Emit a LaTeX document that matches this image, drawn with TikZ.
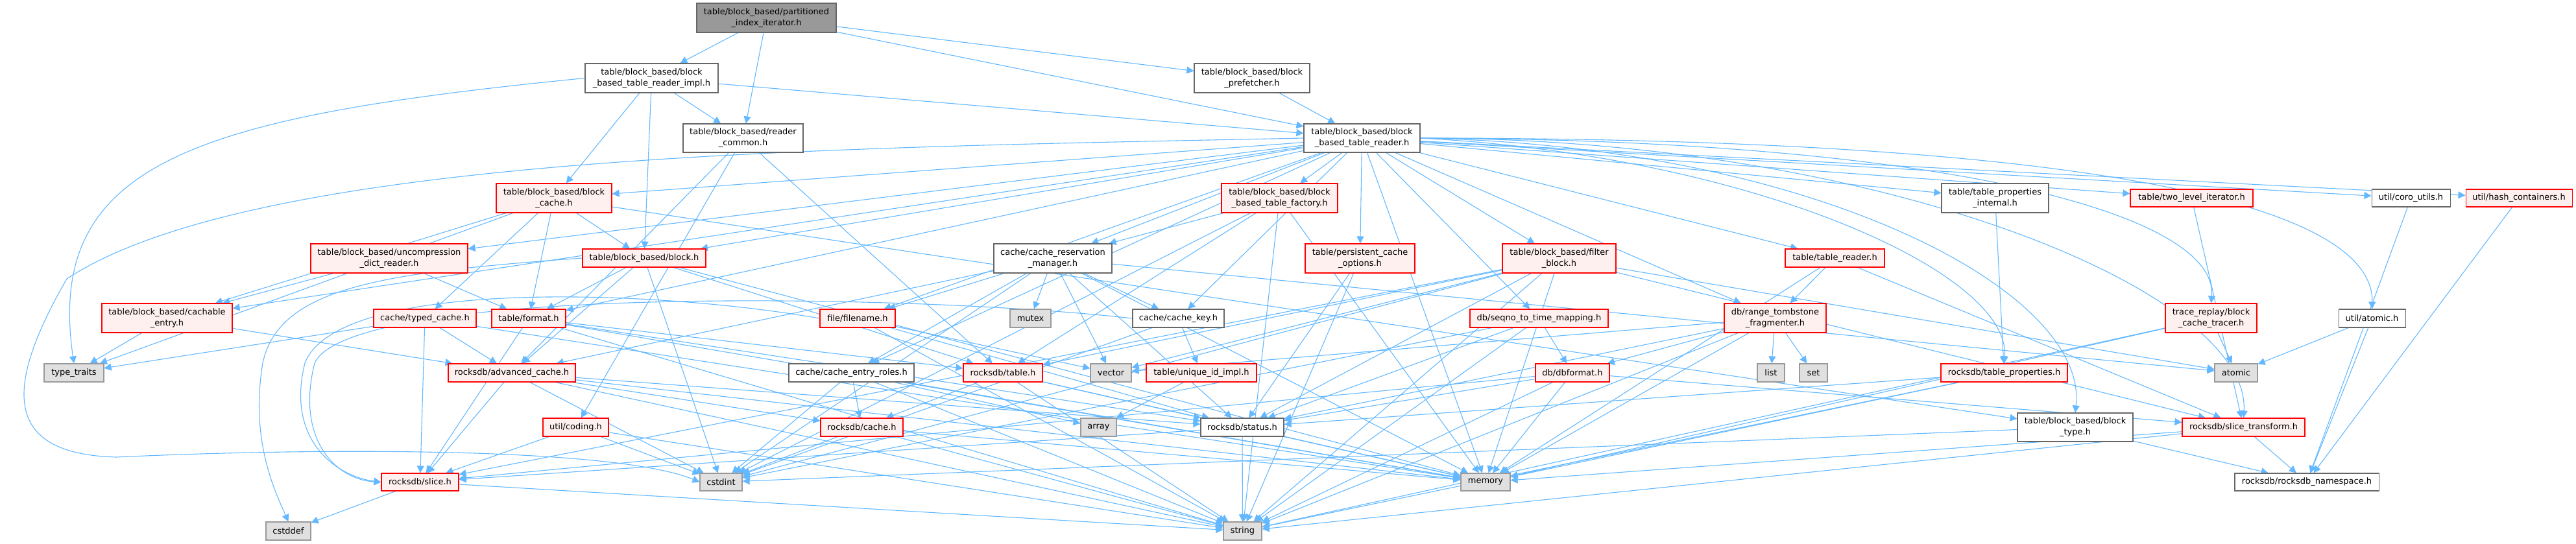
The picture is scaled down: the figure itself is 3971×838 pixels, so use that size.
\documentclass[tikz,border=0pt]{standalone}
\usepackage{fontspec}
\setmainfont{DejaVu Sans}
\usetikzlibrary{arrows.meta}
\pgfdeclarelayer{bg}
\pgfsetlayers{bg,main}
\definecolor{edgec}{HTML}{63B8FF}
\definecolor{redfill}{HTML}{FFF0F0}
\definecolor{leaffill}{HTML}{E0E0E0}
\definecolor{topfill}{HTML}{999999}
\tikzset{
  nd/.style={draw, line width=1.1pt, inner sep=0pt, align=center, anchor=center,
    font=\fontsize{13}{17}\selectfont, text=black},
  redn/.style={nd, draw=red, fill=redfill},
  whiten/.style={nd, draw=black!60, fill=white},
  grayn/.style={nd, draw=black!40, fill=leaffill},
  topn/.style={nd, draw=black!60, fill=topfill},
  edge/.style={draw=edgec, line width=1.1pt, -{Triangle[length=11pt,width=11pt]}},
}
\newcommand{\nb}[6]{\node[#1, minimum width=#4pt, minimum height=#5pt] (#6) at (#2,#3)}
\begin{document}
\begin{tikzpicture}[x=1pt,y=-1pt]
\useasboundingbox (0,0) rectangle (3971,838);
\nb{topn}{1181.5}{27.5}{215}{45}{partitioned} {table/block\_based/partitioned\\\_index\_iterator.h};
\nb{whiten}{1004.5}{120.5}{205}{45}{impl} {table/block\_based/block\\\_based\_table\_reader\_impl.h};
\nb{whiten}{1930}{120.5}{178}{45}{prefetch} {table/block\_based/block\\\_prefetcher.h};
\nb{whiten}{1145.5}{213}{185}{44}{rcommon} {table/block\_based/reader\\\_common.h};
\nb{whiten}{2099.5}{213}{179}{44}{reader} {table/block\_based/block\\\_based\_table\_reader.h};
\nb{redn}{854}{305.5}{178}{45}{bcache} {table/block\_based/block\\\_cache.h};
\nb{redn}{1972.5}{305.5}{179}{45}{factory} {table/block\_based/block\\\_based\_table\_factory.h};
\nb{whiten}{3075.5}{305.5}{165}{45}{tpi} {table/table\_properties\\\_internal.h};
\nb{redn}{3378.5}{305.5}{189}{27}{twolevel} {table/two\_level\_iterator.h};
\nb{whiten}{3716.5}{305.5}{121}{27}{coro} {util/coro\_utils.h};
\nb{redn}{3883}{305.5}{164}{27}{hash} {util/hash\_containers.h};
\nb{redn}{600}{398.5}{242}{45}{uncomp} {table/block\_based/uncompression\\\_dict\_reader.h};
\nb{redn}{993}{398}{190}{28}{block} {table/block\_based/block.h};
\nb{whiten}{1623}{398.5}{182}{45}{crm} {cache/cache\_reservation\\\_manager.h};
\nb{redn}{2096.5}{398.5}{169}{45}{pco} {table/persistent\_cache\\\_options.h};
\nb{redn}{2403.5}{398.5}{175}{45}{filter} {table/block\_based/filter\\\_block.h};
\nb{redn}{2828.5}{398}{153}{28}{treader} {table/table\_reader.h};
\nb{redn}{257.5}{490.5}{201}{45}{cachable} {table/block\_based/cachable\\\_entry.h};
\nb{redn}{655}{491}{158}{28}{typed} {cache/typed\_cache.h};
\nb{redn}{815}{491}{114}{28}{format} {table/format.h};
\nb{redn}{1322}{491}{116}{28}{filename} {file/filename.h};
\nb{grayn}{1588.5}{491}{63}{28}{mutex} {mutex};
\nb{whiten}{1816.5}{491}{141}{28}{ckey} {cache/cache\_key.h};
\nb{redn}{2372.5}{491}{213}{28}{seqno} {db/seqno\_to\_time\_mapping.h};
\nb{redn}{2736.5}{490.5}{157}{45}{rtf} {db/range\_tombstone\\\_fragmenter.h};
\nb{redn}{3408.5}{490.5}{141}{45}{tracer} {trace\_replay/block\\\_cache\_tracer.h};
\nb{whiten}{3656.5}{491}{103}{28}{uatomic} {util/atomic.h};
\nb{grayn}{114}{575}{92}{28}{ttraits} {type\_traits};
\nb{redn}{789}{575}{196}{28}{acache} {rocksdb/advanced\_cache.h};
\nb{whiten}{1312.5}{575}{193}{28}{roles} {cache/cache\_entry\_roles.h};
\nb{redn}{1546}{575}{122}{28}{rtable} {rocksdb/table.h};
\nb{grayn}{1712.5}{575}{63}{28}{vector} {vector};
\nb{redn}{1852}{575}{170}{28}{uid} {table/unique\_id\_impl.h};
\nb{redn}{2424}{575}{114}{28}{dbformat} {db/dbformat.h};
\nb{grayn}{2730}{575}{42}{28}{list} {list};
\nb{grayn}{2795.5}{575}{43}{28}{set} {set};
\nb{redn}{3089.5}{575}{195}{28}{tprops} {rocksdb/table\_properties.h};
\nb{grayn}{3447}{575}{66}{28}{atomic} {atomic};
\nb{redn}{887.5}{659}{101}{28}{coding} {util/coding.h};
\nb{redn}{1328.5}{659}{127}{28}{rcache} {rocksdb/cache.h};
\nb{grayn}{1693.5}{659}{55}{28}{array} {array};
\nb{whiten}{1915}{659}{128}{28}{status} {rocksdb/status.h};
\nb{whiten}{3199}{659}{178}{44}{btype} {table/block\_based/block\\\_type.h};
\nb{redn}{3458.5}{659}{189}{28}{stransform} {rocksdb/slice\_transform.h};
\nb{redn}{647.5}{743.5}{119}{27}{slice} {rocksdb/slice.h};
\nb{grayn}{1111.5}{743.5}{65}{27}{cstdint} {cstdint};
\nb{grayn}{2290}{743.5}{76}{27}{memory} {memory};
\nb{whiten}{3556}{743.5}{222}{27}{rns} {rocksdb/rocksdb\_namespace.h};
\nb{grayn}{444.5}{819}{69}{28}{cstddef} {cstddef};
\nb{grayn}{1915.5}{819}{59}{28}{string} {string};
\begin{pgfonlayer}{bg}
\foreach \s/\t in {partitioned/impl, partitioned/rcommon, partitioned/prefetch, partitioned/reader,
  impl/reader, impl/bcache, impl/block, impl/rcommon, prefetch/reader,
  rcommon/acache, rcommon/coding, rcommon/rtable,
  reader/factory, reader/pco, reader/filter, reader/crm, reader/ckey, reader/roles, reader/rtf,
  reader/seqno, reader/filename, reader/block, reader/bcache,
  reader/cachable, reader/uncomp, reader/format, reader/tpi, reader/treader,
  reader/twolevel, reader/coro, reader/hash, reader/memory,
  bcache/ttraits, bcache/cachable, bcache/typed, bcache/format, bcache/block, bcache/btype,
  uncomp/cachable, uncomp/format,
  block/format, block/acache, block/cstdint, block/memory, block/rtable,
  cachable/ttraits, cachable/acache,
  typed/ttraits, typed/acache, typed/slice, typed/memory,
  format/slice, format/rtable, format/status, format/memory, format/string,
  filename/status, filename/vector, filename/string,
  crm/filename, crm/mutex, crm/vector, crm/ckey, crm/roles, crm/status, crm/memory, crm/cstdint, crm/atomic, crm/acache,
  roles/rcache, roles/cstdint, roles/array, roles/memory, roles/string,
  rtable/rcache, rtable/status, rtable/string, rtable/memory,
  ckey/uid, ckey/cstdint, uid/array,
  acache/slice, acache/cstdint, acache/memory, acache/string, acache/rcache, acache/status,
  rcache/cstdint, rcache/memory, rcache/string,
  coding/slice, coding/string, coding/cstdint,
  status/string, status/memory, status/slice,
  factory/crm, factory/rtable, factory/memory, factory/string, factory/cstdint,
  pco/status, pco/string,
  filter/slice, filter/status, filter/rtable, filter/vector, filter/memory, filter/string, filter/stransform, filter/atomic, filter/cstdint,
  seqno/dbformat, seqno/status, seqno/cstdint, seqno/string,
  dbformat/slice, dbformat/memory, dbformat/string, dbformat/stransform, dbformat/status,
  rtf/list, rtf/set, rtf/dbformat, rtf/memory, rtf/string, rtf/vector, rtf/status,
  treader/rtf, treader/stransform, treader/memory,
  tpi/tprops, tprops/memory, tprops/string, tprops/status,
  btype/cstdint, btype/rns, tracer/atomic, tracer/memory, tracer/string,
  uatomic/atomic, uatomic/rns, coro/rns, hash/rns,
  stransform/rns, stransform/string, stransform/memory,
  slice/cstddef, slice/string, twolevel/stransform}
  {\draw[edge] (\s) -- (\t);}
\draw[edge] (impl.west) .. controls (300,180) and (69,250) .. (ttraits.north);
\draw[edge] (reader.west) .. controls (1300,228) and (400,235) .. (103,430)
   .. controls (5,600) and (5,700) .. (179,705) .. controls (500,690) and (950,690) .. (cstdint.west);
\draw[edge] (block.west) .. controls (600,420) and (430,440) .. (405,560)
   .. controls (385,680) and (425,760) .. (cstddef.north);
\draw[edge] (filename.west) .. controls (1000,445) and (520,430) .. (470,560)
   .. controls (440,680) and (520,735) .. (slice.west);
\draw[edge] (ckey.west) .. controls (1400,452) and (540,440) .. (485,560)
   .. controls (455,680) and (520,740) .. (slice.west);
\draw[edge] (reader.east) .. controls (2900,213) and (3470,450) .. (stransform.north);
\draw[edge] (reader.east) .. controls (2800,225) and (3220,450) .. (btype.north);
\draw[edge] (reader.east) .. controls (3000,215) and (3420,330) .. (tracer.north);
\draw[edge] (reader.east) .. controls (3300,213) and (3660,330) .. (uatomic.north);
\draw[edge] (reader.east) .. controls (2700,240) and (3100,420) .. (tprops.north);
\end{pgfonlayer}
\end{tikzpicture}
\end{document}
